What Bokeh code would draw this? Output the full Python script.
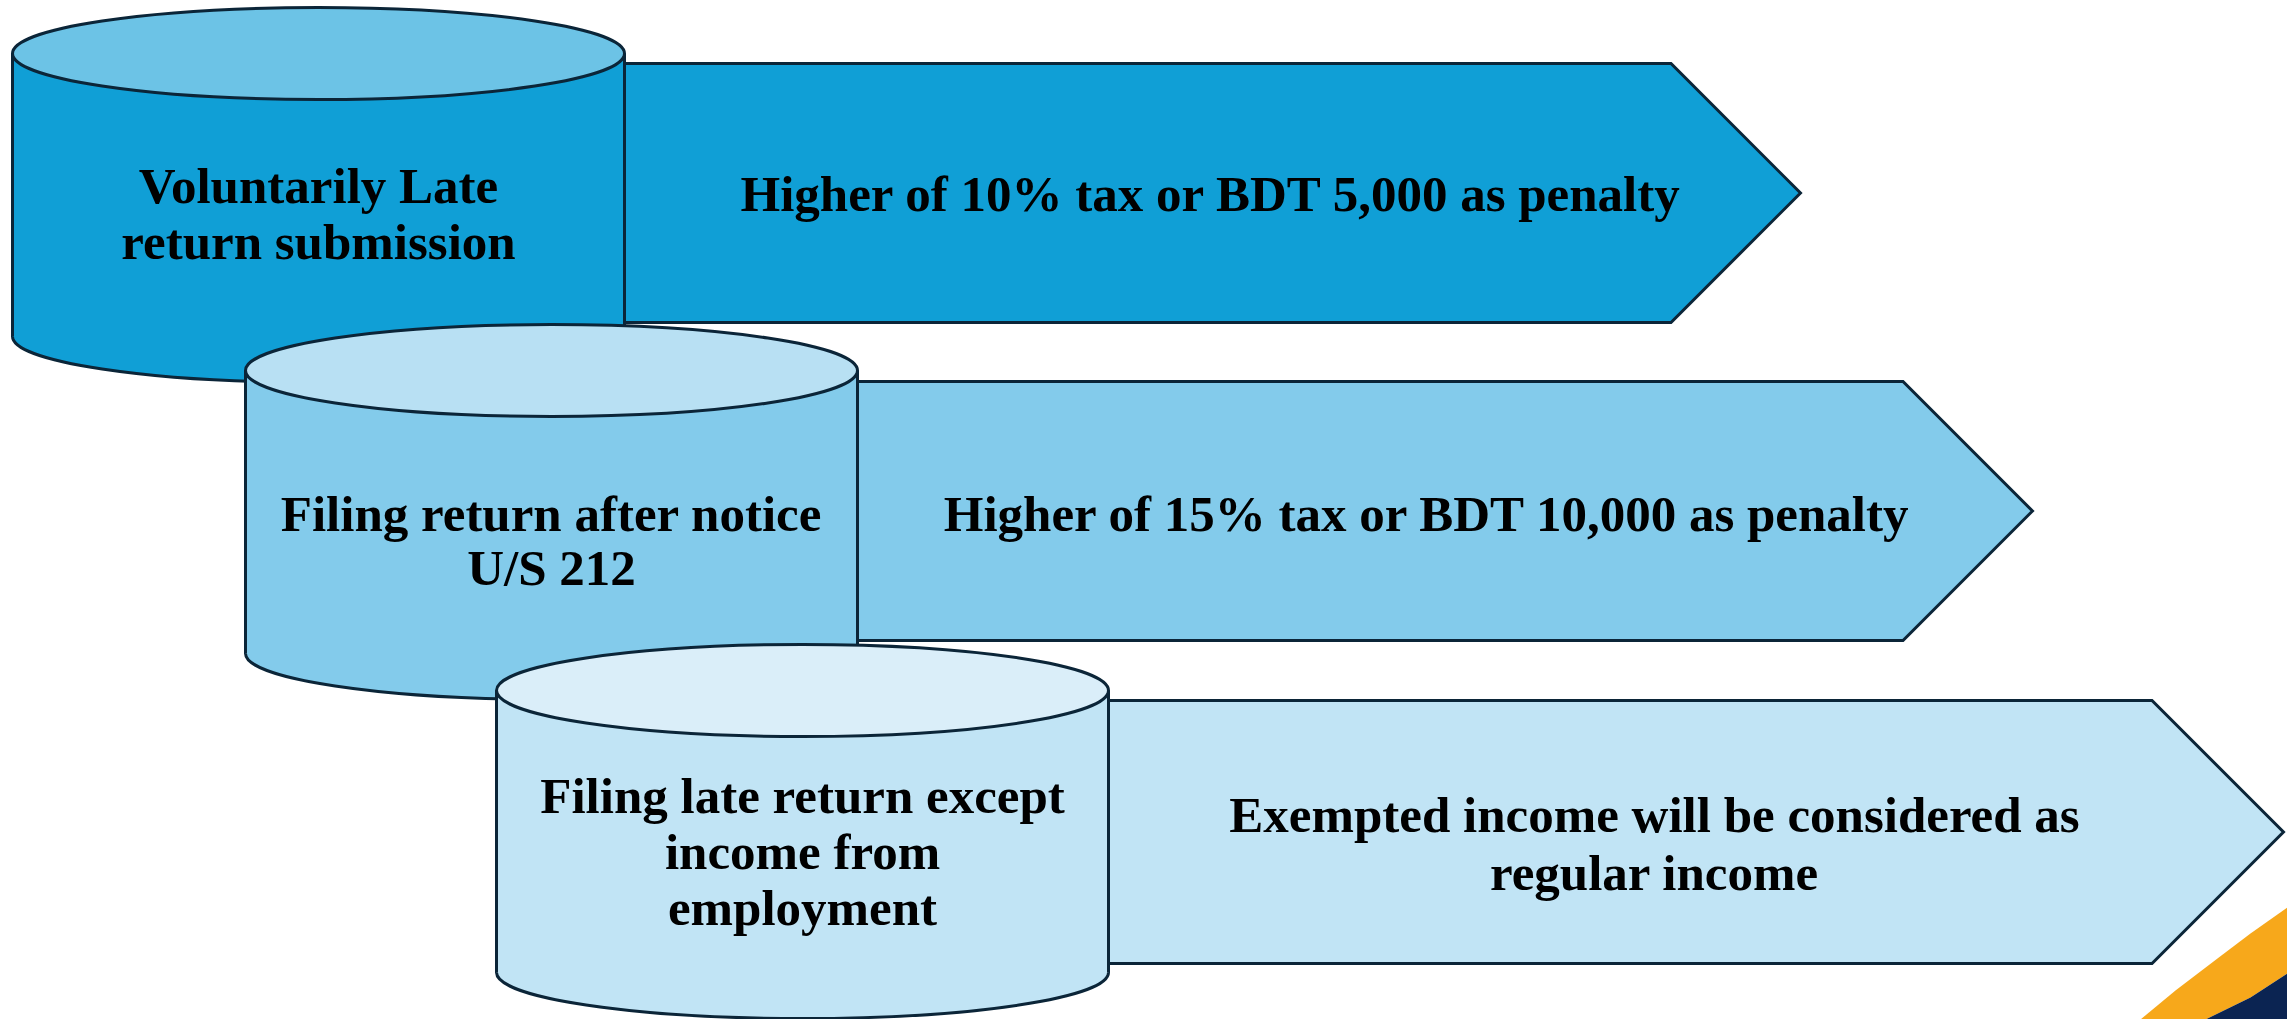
from bokeh.plotting import figure
from bokeh.models import Range1d
from bokeh.embed import file_html
from bokeh.resources import INLINE
from bokeh.core.properties import value

# ---- content ----
step_labels = [
    ["Voluntarily Late", "return submission"],
    ["Filing return after notice", "U/S 212"],
    ["Filing late return except", "income from", "employment"],
]
outcome_labels = [
    ["Higher of 10% tax or BDT 5,000 as penalty"],
    ["Higher of 15% tax or BDT 10,000 as penalty"],
    ["Exempted income will be considered as", "regular income"],
]
body_colors = ["#109FD6", "#83CBEB", "#C1E4F5"]
top_colors = ["#6CC3E6", "#B8E0F3", "#DAEEF9"]

# ---- layout (reference pixel coordinates) ----
cyl_left = [12, 245, 496]
cyl_width = 612
cyl_top = [53, 370, 690]
cyl_bottom = [336, 653, 972]
ell_h = 92
arrow_top = [63, 381, 700]
arrow_bottom = [322, 640, 963]
arrow_tip = [1800, 2032, 2283]
cyl_text_mid = [213, 540, 851]
cyl_text_gap = [56, 54, 56]
arrow_text_x = [1211, 1427, 1654]
arrow_text_mid = [193, 513, 843]
arrow_text_gap = 58
OUT = "#0B2538"
FONT = value("Liberation Serif")
FS = "51px"

W, H = 2287, 1019
p = figure(width=W, height=H, output_backend="svg", toolbar_location=None,
           x_range=Range1d(0, W), y_range=Range1d(H, 0),
           min_border=0, tools="")
p.axis.visible = False
p.grid.visible = False
p.outline_line_color = None
p.background_fill_color = "white"
p.border_fill_color = "white"

# decorative swoosh bottom-right
p.patch([2140, 2175, 2213, 2250, 2287, 2287, 2250, 2205],
        [1019, 990, 961, 933, 907, 973, 997, 1019],
        fill_color="#F7A81B", line_color=None)
p.patch([2205, 2250, 2287, 2287], [1019, 997, 973, 1019],
        fill_color="#0B2452", line_color=None)

for i in range(3):
    x0 = cyl_left[i]
    x1 = x0 + cyl_width
    cx = (x0 + x1) / 2
    # cylinder bottom ellipse
    p.ellipse(x=[cx], y=[cyl_bottom[i]], width=[cyl_width], height=[ell_h],
              fill_color=body_colors[i], line_color=OUT, line_width=3)
    # body
    p.quad(left=[x0], right=[x1], top=[cyl_top[i]], bottom=[cyl_bottom[i]],
           fill_color=body_colors[i], line_color=None)
    p.segment(x0=[x0, x1], y0=[cyl_top[i]] * 2, x1=[x0, x1], y1=[cyl_bottom[i]] * 2,
              line_color=OUT, line_width=3)
    # top ellipse
    p.ellipse(x=[cx], y=[cyl_top[i]], width=[cyl_width], height=[ell_h],
              fill_color=top_colors[i], line_color=OUT, line_width=3)
    # arrow
    at, ab, tip = arrow_top[i], arrow_bottom[i], arrow_tip[i]
    mid = (at + ab) / 2
    half = (ab - at) / 2
    p.patch([x1, tip - half, tip, tip - half, x1],
            [at, at, mid, ab, ab],
            fill_color=body_colors[i], line_color=OUT, line_width=3,
            line_join="miter")
    # cylinder text
    n = len(step_labels[i])
    ys = [cyl_text_mid[i] + (k - (n - 1) / 2) * cyl_text_gap[i] for k in range(n)]
    p.text(x=[cx] * n, y=ys, text=step_labels[i], text_font=FONT,
           text_font_style="bold", text_font_size=FS, text_color="black",
           text_align="center", text_baseline="middle")
    # arrow text
    m = len(outcome_labels[i])
    ys2 = [arrow_text_mid[i] + (k - (m - 1) / 2) * arrow_text_gap for k in range(m)]
    p.text(x=[arrow_text_x[i]] * m, y=ys2, text=outcome_labels[i], text_font=FONT,
           text_font_style="bold", text_font_size=FS, text_color="black",
           text_align="center", text_baseline="middle")

open("out.html", "w").write(file_html(p, INLINE))
